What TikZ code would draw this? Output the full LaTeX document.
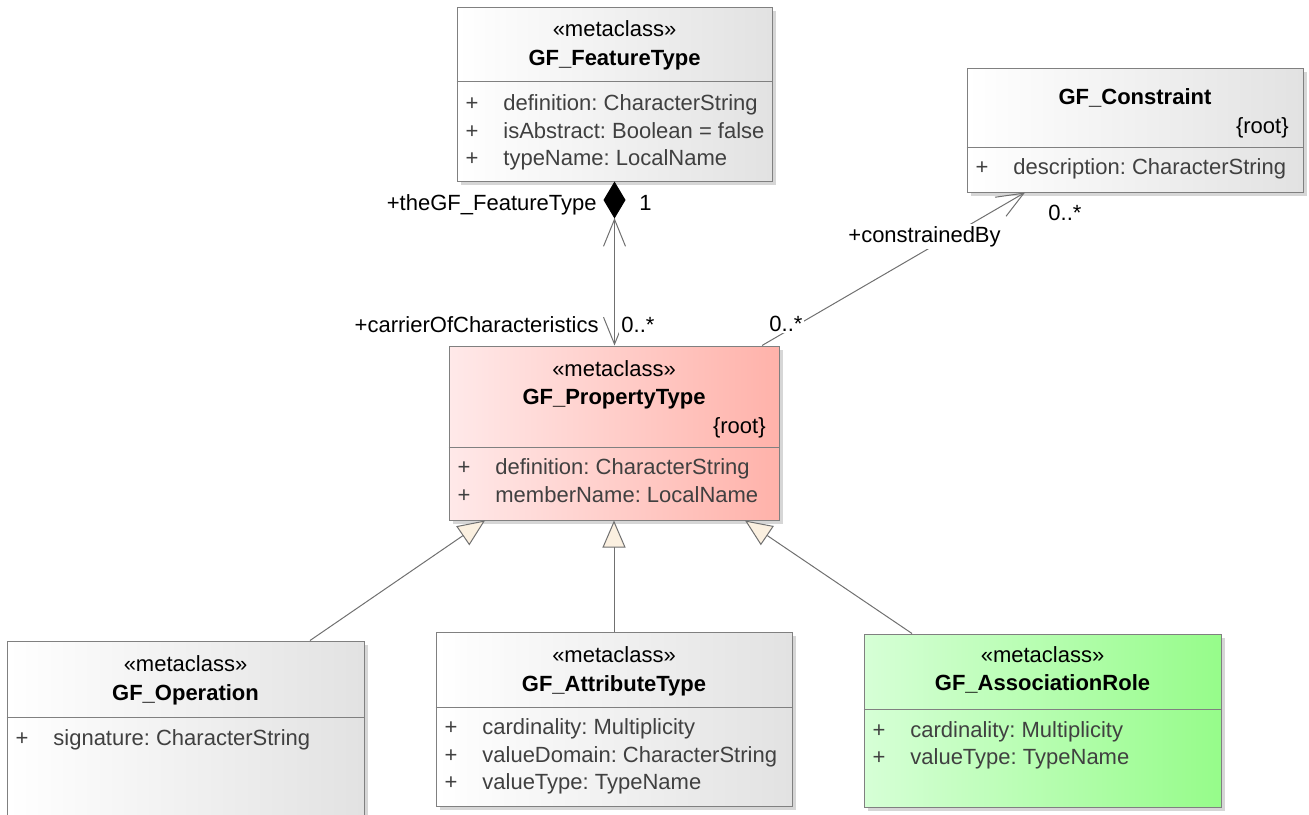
\documentclass[tikz,border=0pt]{standalone}
\usepackage{fontspec}
\setmainfont{Liberation Sans}
\frenchspacing
\usetikzlibrary{arrows.meta,fit,shadows,calc}

\definecolor{boxline}{HTML}{808080}
\definecolor{conn}{HTML}{707070}
\definecolor{attrgray}{HTML}{404040}
\definecolor{plainR}{HTML}{E2E2E2}
\definecolor{propL}{HTML}{FFE9E9}
\definecolor{propR}{HTML}{FFB2AA}
\definecolor{roleL}{HTML}{D6FFD6}
\definecolor{roleR}{HTML}{96FC8A}
\definecolor{genfill}{HTML}{FBF0E0}
\definecolor{shadowgray}{HTML}{D6D6D6}

\tikzset{
  classbox/.style={draw=boxline, line width=0.5pt, inner sep=0pt,
    drop shadow={shadow xshift=2pt, shadow yshift=-2pt, fill=shadowgray, opacity=1}},
  plainbox/.style={classbox, left color=white, right color=plainR},
  propbox/.style={classbox, left color=propL, right color=propR},
  rolebox/.style={classbox, left color=roleL, right color=roleR},
  divider/.style={draw=boxline, line width=0.5pt},
  stereo/.style={anchor=base, inner sep=0pt, font=\fontsize{11}{13}\selectfont},
  clsname/.style={anchor=base, inner sep=0pt, font=\fontsize{11}{13}\selectfont\bfseries},
  tagval/.style={anchor=base east, inner sep=0pt, font=\fontsize{11}{13}\selectfont},
  plusmark/.style={anchor=base, inner sep=0pt, text=attrgray, font=\fontsize{11}{13}\selectfont},
  attrtext/.style={anchor=base west, inner sep=0pt, text=attrgray, font=\fontsize{11}{13}\selectfont},
  rolelab/.style={inner sep=1pt, fill=white, font=\fontsize{11}{13}\selectfont},
  assocline/.style={draw=conn, line width=0.5pt},
  genline/.style={draw=conn, line width=0.5pt,
    -{Triangle[length=13.5pt, width=11.5pt, fill=genfill]}},
  openhead/.style={-{Straight Barb[length=13.5pt, width=11pt]}}
}

% one attribute line: name, left edge of the class, baseline, text
\newcommand\attrrow[4]{%
  \node[plusmark] (#1p) at ({#2+15},#3) {+};
  \node[attrtext] (#1) at ({#2+46},#3) {#4};}

\begin{document}
\begin{tikzpicture}[x=0.5pt, y=-0.5pt]
\useasboundingbox (0,0) rectangle (1309,814);
\clip (0,0) rectangle (1309,814);

% ---------- classes ----------
\node[plainbox, fit={(457,7) (772,181)}] (ft) {};
\node[plainbox, fit={(967,68) (1303,192)}] (cons) {};
\node[propbox, fit={(449,346) (779,520)}] (pt) {};
\node[plainbox, fit={(7,641) (364,840)}] (op) {};
\node[plainbox, fit={(436,632) (792,806)}] (at) {};
\node[rolebox, fit={(864,634) (1221,807)}] (ar) {};

% GF_FeatureType
\node[stereo] (ft-st) at (ft.north |- 0,36) {«metaclass»};
\node[clsname] (ft-nm) at (ft.north |- 0,65) {GF\_FeatureType};
\draw[divider] (ft.west |- 0,81) -- (ft.east |- 0,81);
\attrrow{ft-a1}{457}{110}{definition: CharacterString}
\attrrow{ft-a2}{457}{138}{isAbstract: Boolean = false}
\attrrow{ft-a3}{457}{165}{typeName: LocalName}

% GF_Constraint
\node[clsname] (cons-nm) at (cons.north |- 0,104) {GF\_Constraint};
\node[tagval] (cons-tag) at (1289,133) {\{root\}};
\draw[divider] (cons.west |- 0,147) -- (cons.east |- 0,147);
\attrrow{cons-a1}{967}{174}{description: CharacterString}

% GF_PropertyType
\node[stereo] (pt-st) at (pt.north |- 0,376) {«metaclass»};
\node[clsname] (pt-nm) at (pt.north |- 0,404) {GF\_PropertyType};
\node[tagval] (pt-tag) at (766,433) {\{root\}};
\draw[divider] (pt.west |- 0,447) -- (pt.east |- 0,447);
\attrrow{pt-a1}{449}{474}{definition: CharacterString}
\attrrow{pt-a2}{449}{502}{memberName: LocalName}

% GF_Operation
\node[stereo] (op-st) at (185.5,671) {«metaclass»};
\node[clsname] (op-nm) at (185.5,700) {GF\_Operation};
\draw[divider] (op.west |- 0,717) -- (op.east |- 0,717);
\attrrow{op-a1}{7}{745}{signature: CharacterString}

% GF_AttributeType
\node[stereo] (at-st) at (at.north |- 0,662) {«metaclass»};
\node[clsname] (at-nm) at (at.north |- 0,691) {GF\_AttributeType};
\draw[divider] (at.west |- 0,707) -- (at.east |- 0,707);
\attrrow{at-a1}{436}{734}{cardinality: Multiplicity}
\attrrow{at-a2}{436}{762}{valueDomain: CharacterString}
\attrrow{at-a3}{436}{789}{valueType: TypeName}

% GF_AssociationRole
\node[stereo] (ar-st) at (ar.north |- 0,662) {«metaclass»};
\node[clsname] (ar-nm) at (ar.north |- 0,690) {GF\_AssociationRole};
\draw[divider] (ar.west |- 0,709) -- (ar.east |- 0,709);
\attrrow{ar-a1}{864}{737}{cardinality: Multiplicity}
\attrrow{ar-a2}{864}{764}{valueType: TypeName}

% ---------- composition GF_FeatureType <>-- GF_PropertyType ----------
\draw[assocline, {Diamond[length=18.5pt, width=11pt, color=black]}-{Straight Barb[length=13.5pt, width=11pt]}]
  (ft.south) -- (ft.south |- pt.north);
\coordinate (dtip) at (614.5,218);
\coordinate (dtail) at (614.5,262);
\draw[assocline, openhead] (dtail) -- (dtip);

% ---------- association GF_PropertyType --> GF_Constraint ----------
\coordinate (cstart) at (pt.north -| 762,0);
\coordinate (cend) at (cons.south -| 1025,0);
\draw[assocline, openhead] (cstart) -- (cend);

% ---------- generalizations ----------
\draw[genline] (op.north -| 310,0) -- (pt.south -| 485,0);
\draw[genline] (at.north) -- (at.north |- pt.south);
\draw[genline] (ar.north -| 912,0) -- (pt.south -| 745,0);

% ---------- role names and multiplicities ----------
\node[rolelab, anchor=base east] (r-ft) at (599,210) {+theGF\_FeatureType};
\node[rolelab, anchor=base west] (m-ft) at (637,210) {1};
\node[rolelab, anchor=base east] (r-pt) at (601,332) {+carrierOfCharacteristics};
\node[rolelab, anchor=base west] (m-pt) at (619,332) {0..*};
\node[rolelab, anchor=base west] (r-cons) at (846,242) {+constrainedBy};
\node[rolelab, anchor=base west] (m-cons) at (1046,220) {0..*};
\node[rolelab, anchor=base west] (m-pt2) at (767,331) {0..*};
\end{tikzpicture}
\end{document}
